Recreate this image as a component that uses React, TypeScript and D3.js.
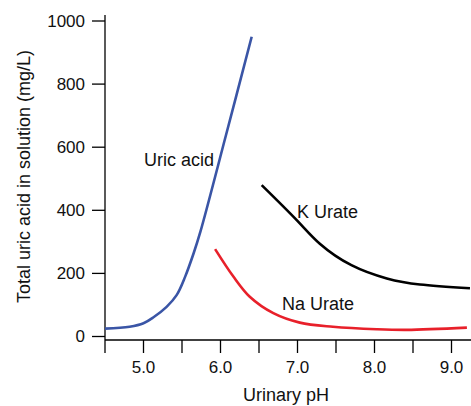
import React from "react";
import * as d3 from "d3";

const uricPH = [4.5, 4.82, 5.0, 5.13, 5.3, 5.43, 5.54, 5.65, 5.74, 6.07, 6.405];
const uricVal = [25, 31, 42, 61, 94, 131, 189, 263, 333, 637, 950];

const kPH = [6.535, 6.99, 7.29, 7.7, 8.16, 8.59, 9.24];
const kVal = [480, 369, 294, 226, 184, 165, 153];

const naPH = [5.93, 6.167, 6.38, 6.686, 7.03, 7.46, 8.03, 8.42, 9.2];
const naVal = [277, 190, 126, 74, 44, 31, 23, 21, 28];

const xTicks = [4.5, 5.0, 5.5, 6.0, 6.5, 7.0, 7.5, 8.0, 8.5, 9.0];
const xTickLabels = ["", "5.0", "", "6.0", "", "7.0", "", "8.0", "", "9.0"];
const yTicks = [0, 200, 400, 600, 800, 1000];

const W = 471;
const H = 406;
const FONT = "'Liberation Sans', Arial, Helvetica, sans-serif";

export default function App() {
  const x = d3.scaleLinear().domain([4.5, 9.25]).range([105, 470.75]);
  const y = d3.scaleLinear().domain([0, 1000]).range([336.5, 21]);
  const mkLine = (curve: any) =>
    d3
      .line<[number, number]>()
      .x((d) => x(d[0]))
      .y((d) => y(d[1]))
      .curve(curve);

  const series = [
    { ph: uricPH, v: uricVal, color: "#3a55a6", curve: d3.curveCatmullRom.alpha(0.5) },
    { ph: kPH, v: kVal, color: "#000000", curve: d3.curveNatural },
    { ph: naPH, v: naVal, color: "#e8202a", curve: d3.curveCatmullRom.alpha(0.5) },
  ];

  const axisY0 = 340;
  const axisX0 = 105;

  return (
    <svg
      width={W}
      height={H}
      style={{ position: "absolute", left: 0, top: 0, background: "#fff" }}
      fontFamily={FONT}
    >
      <line x1={axisX0} x2={axisX0} y1={15} y2={axisY0} stroke="#000" strokeWidth={1.3} />
      {yTicks.map((t) => (
        <g key={t}>
          <line x1={axisX0 - 13} x2={axisX0} y1={y(t)} y2={y(t)} stroke="#000" strokeWidth={1.3} />
          <text x={85} y={y(t)} dy="0.35em" textAnchor="end" fontSize={17} fill="#111">
            {t}
          </text>
        </g>
      ))}
      <line x1={axisX0} x2={W} y1={axisY0} y2={axisY0} stroke="#000" strokeWidth={1.3} />
      {xTicks.map((t, i) => (
        <g key={t}>
          <line x1={x(t)} x2={x(t)} y1={axisY0} y2={axisY0 + 13} stroke="#000" strokeWidth={1.3} />
          {xTickLabels[i] && (
            <text x={x(t)} y={373} textAnchor="middle" fontSize={17} fill="#111">
              {xTickLabels[i]}
            </text>
          )}
        </g>
      ))}
      <text x={286} y={401} textAnchor="middle" fontSize={18} fill="#111">
        Urinary pH
      </text>
      <text
        transform={`translate(30,176.5) rotate(-90)`}
        textAnchor="middle"
        fontSize={18}
        fill="#111"
      >
        Total uric acid in solution (mg/L)
      </text>

      {series.map((s, i) => (
        <path
          key={i}
          d={mkLine(s.curve)(s.ph.map((p, j) => [p, s.v[j]] as [number, number])) || ""}
          fill="none"
          stroke={s.color}
          strokeWidth={2.6}
          strokeLinejoin="round"
        />
      ))}

      <text x={144} y={166} fontSize={18} fill="#111">Uric acid</text>
      <text x={297} y={218} fontSize={18} fill="#111">K Urate</text>
      <text x={282} y={309.5} fontSize={18} fill="#111">Na Urate</text>
    </svg>
  );
}
